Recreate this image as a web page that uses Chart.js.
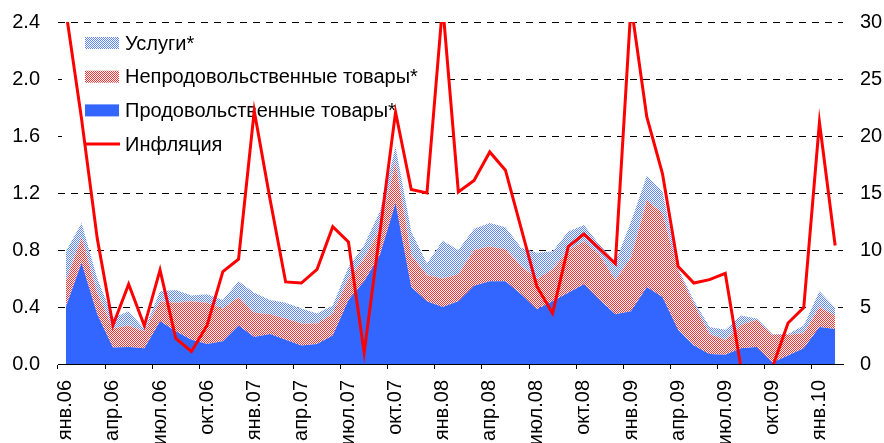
<!DOCTYPE html>
<html>
<head>
<meta charset="utf-8">
<script src="https://cdn.jsdelivr.net/npm/chart.js@4.4.1/dist/chart.umd.min.js"></script>
<style>
    html, body { margin: 0; padding: 0; background: #fff; overflow: hidden; }
</style>
</head>
<body>
<canvas id="cpiChart" width="884" height="443"></canvas>
<script>
// months and years for the x axis (янв.06 ... фев.10)
const monthNames = ['янв', 'фев', 'мар', 'апр', 'май', 'июн', 'июл', 'авг', 'сен', 'окт', 'ноя', 'дек'];
const years = ['06', '07', '08', '09', '10'];
const monthCount = 50;

// contributions, left axis (stacked)
const food = [0.40, 0.71, 0.35, 0.115, 0.12, 0.11, 0.30, 0.23, 0.17, 0.14,
              0.16, 0.27, 0.19, 0.21, 0.17, 0.13, 0.14, 0.20, 0.45, 0.58,
              0.765, 1.13, 0.54, 0.44, 0.40, 0.44, 0.55, 0.58, 0.58, 0.49,
              0.385, 0.44, 0.50, 0.56, 0.45, 0.35, 0.37, 0.54, 0.47, 0.24,
              0.13, 0.07, 0.065, 0.11, 0.12, 0.01, 0.06, 0.11, 0.26, 0.245];
const nonFood = [0.18, 0.18, 0.15, 0.135, 0.15, 0.12, 0.14, 0.20, 0.27, 0.29,
                 0.23, 0.20, 0.17, 0.14, 0.15, 0.155, 0.145, 0.155, 0.15, 0.16,
                 0.185, 0.29, 0.225, 0.185, 0.20, 0.19, 0.25, 0.245, 0.225, 0.20,
                 0.21, 0.225, 0.30, 0.30, 0.315, 0.24, 0.38, 0.61, 0.59, 0.415,
                 0.29, 0.14, 0.105, 0.165, 0.19, 0.195, 0.145, 0.105, 0.14, 0.095];
const services = [0.21, 0.10, 0.10, 0.075, 0.10, 0.015, 0.07, 0.09, 0.04, 0.06,
                  0.06, 0.11, 0.14, 0.10, 0.11, 0.105, 0.07, 0.055, 0.08, 0.095,
                  0.12, 0.105, 0.165, 0.08, 0.265, 0.17, 0.15, 0.165, 0.155, 0.125,
                  0.185, 0.125, 0.13, 0.115, 0.07, 0.125, 0.25, 0.17, 0.15, 0.015,
                  0.025, 0.05, 0.07, 0.065, 0.01, 0.005, 0.005, 0.055, 0.11, 0.055];

// inflation, right axis
const inflation = [31, 21.5, 11, 3.4, 7.0, 3.35, 8.25, 2.25, 1.1, 3.4,
                   8.1, 9.2, 22.2, 14.5, 7.2, 7.1, 8.3, 12.05, 10.7, 1.0,
                   11.5, 22.1, 15.3, 15.0, 31.5, 15.1, 16.1, 18.6, 17.0, 11.9,
                   6.8, 4.45, 10.3, 11.4, 10.1, 8.8, 31.5, 21.7, 16.7, 8.55,
                   7.1, 7.4, 7.95, -0.3, -1.5, -0.3, 3.6, 4.95, 21.2, 10.4];

const legendLabels = ['Услуги*', 'Непродовольственные товары*', 'Продовольственные товары*', 'Инфляция'];

let labels = [];
for (let i = 0; i < monthCount; i++) {
    labels.push(monthNames[i % 12] + '.' + years[Math.floor(i / 12)]);
}

const fontFamily = '"Liberation Sans", Arial, sans-serif';

// dotted fill like the excel pattern
function makePattern(color) {
    const c = document.createElement('canvas');
    c.width = 2;
    c.height = 2;
    const g = c.getContext('2d');
    g.fillStyle = '#ffffff';
    g.fillRect(0, 0, 2, 2);
    g.fillStyle = color;
    g.fillRect(0, 0, 1, 1);
    g.fillRect(1, 1, 1, 1);
    return g.createPattern(c, 'repeat');
}

const redPattern = makePattern('#FF3333');
const bluePattern = makePattern('#5C85FF');

// legend inside the plot, white box over the grid lines
const legendBox = {
    id: 'legendBox',
    beforeDatasetsDraw(chart) {
        const c = chart.ctx;
        const area = chart.chartArea;
        c.save();
        c.fillStyle = '#fff';
        c.fillRect(area.left + 4, area.top + 6, 381, 132);

        const fills = [bluePattern, redPattern, '#3366FF', null];
        c.font = '20px ' + fontFamily;
        c.textBaseline = 'middle';
        for (let i = 0; i < legendLabels.length; i++) {
            const y = area.top + 21 + i * 33.7;
            if (fills[i]) {
                c.fillStyle = fills[i];
                c.fillRect(area.left + 27, y - 6, 34, 12);
            } else {
                c.strokeStyle = '#FF0000';
                c.lineWidth = 3;
                c.beginPath();
                c.moveTo(area.left + 27, y);
                c.lineTo(area.left + 62, y);
                c.stroke();
            }
            c.fillStyle = '#000';
            c.fillText(legendLabels[i], area.left + 67, y + 1);
        }
        c.restore();
    }
};

// fixed axis sizes so the plot sits where the original one does
function fixWidth(w) {
    return (scale) => {
        scale.width = w;
        scale.paddingTop = 0;
        scale.paddingBottom = 0;
    };
}

let ctx = document.getElementById('cpiChart').getContext('2d');
let cpiChart = new Chart(ctx, {
    type: 'line',
    data: {
        labels: labels,
        datasets: [{
            label: legendLabels[2],
            data: food,
            yAxisID: 'y',
            backgroundColor: '#3366FF',
            fill: 'origin',
            borderWidth: 0,
            pointRadius: 0,
            order: 1
        }, {
            label: legendLabels[1],
            data: nonFood,
            yAxisID: 'y',
            backgroundColor: redPattern,
            fill: '-1',
            borderWidth: 0,
            pointRadius: 0,
            order: 1
        }, {
            label: legendLabels[0],
            data: services,
            yAxisID: 'y',
            backgroundColor: bluePattern,
            fill: '-1',
            borderWidth: 0,
            pointRadius: 0,
            order: 1
        }, {
            label: legendLabels[3],
            data: inflation,
            yAxisID: 'y1',
            borderColor: '#FF0000',
            borderWidth: 3,
            fill: false,
            pointRadius: 0,
            tension: 0,
            order: 0
        }]
    },
    options: {
        responsive: false,
        animation: false,
        layout: {
            padding: { top: 22, left: 0, right: 0, bottom: 0 }
        },
        plugins: {
            legend: { display: false },
            tooltip: { enabled: false }
        },
        scales: {
            x: {
                type: 'category',
                offset: true,
                grid: {
                    offset: true,
                    drawOnChartArea: false,
                    drawTicks: true,
                    tickLength: 5,
                    tickWidth: 1,
                    tickColor: (c) => c.index % 3 === 0 ? '#000' : 'rgba(0,0,0,0)'
                },
                border: { display: true, color: '#000', width: 1 },
                ticks: {
                    autoSkip: false,
                    minRotation: 90,
                    maxRotation: 90,
                    padding: 11,
                    color: '#000',
                    font: { family: fontFamily, size: 20 },
                    callback: function(value, index) {
                        return index % 3 === 0 ? this.getLabelForValue(value) : '';
                    }
                },
                afterFit: (scale) => { scale.height = 79; }
            },
            y: {
                position: 'left',
                stacked: true,
                min: 0,
                max: 2.4,
                grid: { color: '#000', lineWidth: 1, drawTicks: false },
                border: { display: false, dash: [7, 6] },
                ticks: {
                    stepSize: 0.4,
                    padding: 18,
                    color: '#000',
                    font: { family: fontFamily, size: 20 },
                    callback: (v) => v.toFixed(1)
                },
                afterFit: fixWidth(58)
            },
            y1: {
                position: 'right',
                min: 0,
                max: 30,
                grid: { display: false, drawTicks: false },
                border: { display: false },
                ticks: {
                    stepSize: 5,
                    padding: 17,
                    color: '#000',
                    font: { family: fontFamily, size: 20 }
                },
                afterFit: fixWidth(41)
            }
        }
    },
    plugins: [legendBox]
});
</script>
</body>
</html>
